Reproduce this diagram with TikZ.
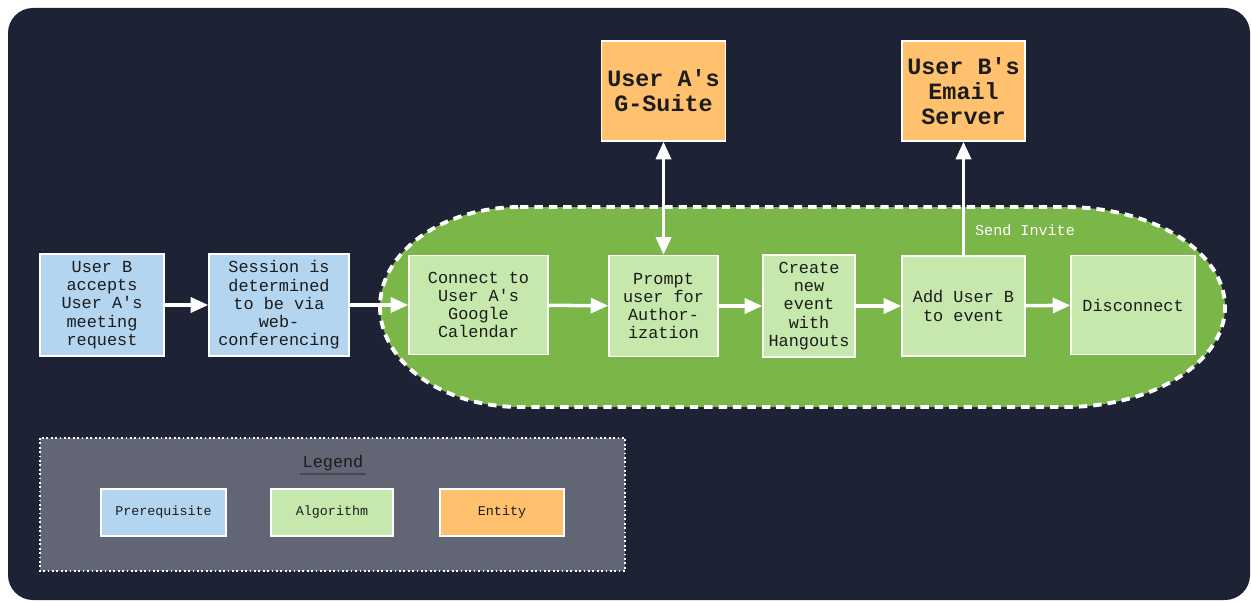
\documentclass[tikz,border=0pt]{standalone}
\usepackage{fontspec}
\setmainfont{Liberation Mono}[Ligatures=TeXOff]
\usetikzlibrary{arrows.meta}
\definecolor{navy}{HTML}{1E2235}
\definecolor{prereq}{HTML}{B4D5F0}
\definecolor{algo}{HTML}{C6E8AC}
\definecolor{entity}{HTML}{FFC16E}
\definecolor{loop}{HTML}{7AB648}
\definecolor{legendbg}{HTML}{626574}
\definecolor{legendline}{HTML}{45485A}
\definecolor{ink}{HTML}{1C1C1C}
\tikzset{
  stepbox/.style={draw=white, line width=0.8pt, text=ink, align=center, inner sep=0pt,
    font=\fontsize{9.6}{10.4}\selectfont},
  prebox/.style={stepbox, fill=prereq},
  algobox/.style={stepbox, fill=algo},
  entitybox/.style={stepbox, fill=entity, font=\fontsize{13.3}{14.2}\selectfont\bfseries},
  keybox/.style={stepbox, fill=#1, minimum width=2.46cm, minimum height=0.94cm,
    font=\fontsize{7.6}{8.5}\selectfont},
  flow/.style={white, line width=2pt, -{Triangle[length=10pt,width=8.5pt]}},
  both/.style={white, line width=2pt, {Triangle[length=10pt,width=8.5pt]}-{Triangle[length=10pt,width=8.5pt]}}
}
\begin{document}
\begin{tikzpicture}
  \useasboundingbox (0,0) rectangle (25.04,-12.04);
  \fill[navy, rounded corners=0.5cm] (0.16,-0.16) rectangle (25.0,-12.0);
  % algorithm loop
  \draw[draw=white, fill=loop, line width=2.2pt, dash pattern=on 4.8pt off 3.4pt]
    (10.4,-4.14) -- (21.3,-4.14) arc[start angle=90, end angle=-90, x radius=3.2, y radius=2]
    -- (10.4,-8.14) arc[start angle=270, end angle=90, x radius=2.8, y radius=2] -- cycle;
  % steps
  \node[prebox, minimum width=2.48cm, minimum height=2.04cm] (accept) at (2.04,-6.1)
    {User B\\accepts\\User A's\\meeting\\request};
  \node[prebox, minimum width=2.80cm, minimum height=2.04cm] (session) at (5.58,-6.1)
    {Session is\\determined\\to be via\\web-\\conferencing};
  \node[algobox, minimum width=2.78cm, minimum height=1.98cm] (connect) at (9.57,-6.1)
    {Connect to\\User A's\\Google\\Calendar};
  \node[algobox, minimum width=2.18cm, minimum height=2.02cm] (prompt) at (13.27,-6.12)
    {Prompt\\user for\\Author-\\ization};
  \node[algobox, minimum width=1.84cm, minimum height=2.04cm] (create) at (16.18,-6.12)
    {Create\\new\\event\\with\\Hangouts};
  \node[algobox, minimum width=2.46cm, minimum height=2.00cm] (adduser) at (19.27,-6.12)
    {Add User B\\to event};
  \node[algobox, minimum width=2.48cm, minimum height=1.98cm] (disconnect) at (22.66,-6.1)
    {Disconnect};
  % entities
  \node[entitybox, minimum width=2.48cm, minimum height=2.00cm] (gsuite) at (13.27,-1.82)
    {User A's\\G-Suite};
  \node[entitybox, minimum width=2.46cm, minimum height=2.00cm] (mailserver) at (19.27,-1.82)
    {User B's\\Email\\Server};
  % connectors
  \draw[flow] (accept) -- (session);
  \draw[flow] (session) -- (connect);
  \draw[flow] (connect) -- (prompt);
  \draw[flow] (prompt) -- (create);
  \draw[flow] (create) -- (adduser);
  \draw[flow] (adduser) -- (disconnect);
  \draw[both] (gsuite) -- (prompt);
  \draw[flow] (adduser) -- (mailserver);
  \node[white, font=\fontsize{8.6}{10}\selectfont] (invite) at (20.5,-4.6) {Send Invite};
  % legend
  \draw[draw=white, fill=legendbg, line width=1.3pt, dash pattern=on 1pt off 1.5pt]
    (0.8,-8.76) rectangle (12.5,-11.42);
  \node[text=ink, font=\fontsize{9.6}{10}\selectfont, inner sep=1.5pt] (legendtitle) at (6.66,-9.26) {Legend};
  \draw[legendline, line width=1.3pt] (legendtitle.south west) -- (legendtitle.south east);
  \node[keybox=prereq, minimum width=2.5cm] (keypre) at (3.27,-10.25) {Prerequisite};
  \node[keybox=algo, minimum width=2.44cm] (keyalgo) at (6.64,-10.25) {Algorithm};
  \node[keybox=entity, minimum width=2.48cm] (keyentity) at (10.04,-10.25) {Entity};
\end{tikzpicture}
\end{document}
